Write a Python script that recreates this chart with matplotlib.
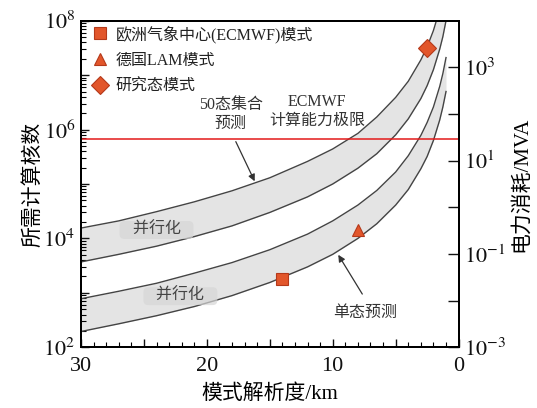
import numpy as np
import matplotlib
matplotlib.use("Agg")
import matplotlib.pyplot as plt
from matplotlib.ticker import LogLocator, MultipleLocator, FixedLocator, FuncFormatter, NullFormatter, NullLocator
from matplotlib.lines import Line2D

plt.rcParams['font.family'] = ['Liberation Serif', 'Noto Sans CJK SC']
plt.rcParams['mathtext.fontset'] = 'stix'
plt.rcParams['axes.unicode_minus'] = True

# Grid spacing (km) at which the cost curves were sampled
res_km = [30, 27, 24, 21, 18, 15, 12, 10, 8, 6.5, 5, 4, 3, 2.5, 2, 1.5, 1.25, 1.0]

# 50-member ensemble band (upper / lower edge), number of cores
ens_hi = [1.55e4, 2.1e4, 3.1e4, 4.7e4, 7.5e4, 1.3e5, 2.6e5, 4.4e5, 8.5e5, 1.7e6,
          3.9e6, 7.7e6, 1.9e7, 3.3e7, 6.6e7, 1.6e8, 2.8e8, 5.6e8]
ens_lo = [3.7e3, 5.1e3, 7.2e3, 1.08e4, 1.7e4, 3.0e4, 5.8e4, 1.0e5, 1.95e5, 3.6e5,
          8.0e5, 1.57e6, 3.7e6, 6.4e6, 1.26e7, 3.0e7, 5.1e7, 1.0e8]

# Single deterministic forecast band (upper / lower edge)
det_hi = [7.8e2, 1.07e3, 1.5e3, 2.3e3, 3.6e3, 6.2e3, 1.2e4, 2.1e4, 4.1e4, 7.6e4,
          1.66e5, 3.3e5, 7.8e5, 1.35e6, 2.6e6, 6.2e6, 1.07e7, 2.1e7]
det_lo = [1.95e2, 2.7e2, 3.8e2, 5.6e2, 8.9e2, 1.55e3, 3.0e3, 5.1e3, 1.0e4, 1.86e4,
          4.1e4, 7.9e4, 1.9e5, 3.2e5, 6.3e5, 1.5e6, 2.6e6, 5.0e6]

# ECMWF computing capacity limit
ecmwf_limit = 6.7e5

# Individual models: (resolution km, cores)
model_names = ['欧洲气象中心(ECMWF)模式', '德国LAM模式', '研究态模式']
model_res = [14, 8, 2.5]
model_cores = [1.8e3, 1.45e4, 3.1e7]
model_markers = ['s', '^', 'D']
model_sizes = [9, 9, 9.5]

fig = plt.figure(figsize=(5.37, 4.08), dpi=100)
ax = fig.add_axes([0.1508, 0.1488, 0.7032, 0.8005])

band_face = '#e4e4e4'
line_col = '#444444'
ax.fill_between(res_km, ens_lo, ens_hi, color=band_face, lw=0, zorder=1)
ax.fill_between(res_km, det_lo, det_hi, color=band_face, lw=0, zorder=1)
for ys in (ens_hi, ens_lo, det_hi, det_lo):
    ax.plot(res_km, ys, color=line_col, lw=1.0, zorder=2)

ax.axhline(ecmwf_limit, color='#e31a1a', lw=1.1, zorder=3)

mk_face = '#e2562b'
mk_edge = '#b5391a'
handles = []
for name, xr, yc, m, s in zip(model_names, model_res, model_cores, model_markers, model_sizes):
    ax.plot([xr], [yc], marker=m, ms=s, mfc=mk_face, mec=mk_edge, mew=0.8,
            ls='none', zorder=5)
    handles.append(Line2D([], [], marker=m, ms=s, mfc=mk_face, mec=mk_edge,
                          mew=0.8, ls='none', label=name))

leg = ax.legend(handles=handles, loc='upper left', bbox_to_anchor=(0.005, 1.02),
                frameon=False, fontsize=11.5, handlelength=0.8, handletextpad=0.55,
                labelspacing=0.6, borderaxespad=0.3)
for t in leg.get_texts():
    t.set_color('#222222')

ax.set_xlim(30, 0)
ax.set_ylim(1e2, 1e8)
ax.set_yscale('log')

# Axis ticks
ax.xaxis.set_major_locator(MultipleLocator(5))
ax.xaxis.set_minor_locator(MultipleLocator(1))
ax.xaxis.set_major_formatter(FuncFormatter(lambda v, p: f'{int(round(v))}' if round(v) % 10 == 0 else ''))
ax.yaxis.set_major_locator(LogLocator(base=10, numticks=20))
ax.yaxis.set_minor_locator(LogLocator(base=10, subs=np.arange(2, 10), numticks=20))
ax.yaxis.set_minor_formatter(NullFormatter())

def left_fmt(v, p):
    e = int(round(np.log10(v)))
    return f'$10^{{{e}}}$' if e % 2 == 0 else ''
ax.yaxis.set_major_formatter(FuncFormatter(left_fmt))

ax.tick_params(axis='both', which='major', direction='in', length=6, width=1.0,
               labelsize=16, colors='#111111')
ax.tick_params(axis='both', which='minor', direction='in', length=3.5, width=0.8)
ax.tick_params(axis='x', which='major', pad=7)
ax.tick_params(axis='y', which='major', pad=4)
for sp in ax.spines.values():
    sp.set_linewidth(1.4)

ax.set_xlabel('模式解析度/km', fontsize=15, labelpad=6)
ax.set_ylabel('所需计算核数', fontsize=15, labelpad=0)

# Power consumption axis
ax2 = ax.twinx()
ax2.set_yscale('log')
ax2.set_ylim(1e-3, 1e4)
ax2.yaxis.set_major_locator(FixedLocator([10.0 ** e for e in range(-3, 4)]))
ax2.yaxis.set_minor_locator(NullLocator())

def right_fmt(v, p):
    e = int(round(np.log10(v)))
    return f'$10^{{{e}}}$' if e % 2 != 0 else ''
ax2.yaxis.set_major_formatter(FuncFormatter(right_fmt))
ax2.tick_params(axis='y', which='major', direction='in', length=8, width=1.0,
                labelsize=16, pad=4, colors='#111111')
ax2.set_ylabel('电力消耗/MVA', fontsize=15, labelpad=4)
for sp in ax2.spines.values():
    sp.set_linewidth(1.4)

# Annotations
txt_col = '#333333'
ax.text(18.1, 1.9e6, '50态集合\n预测', ha='center', va='center', fontsize=11.5,
        color=txt_col, linespacing=1.3)
ax.annotate('', xy=(16.2, 1.12e5), xytext=(17.7, 6.0e5),
            arrowprops=dict(arrowstyle='-|>', color='#333333', lw=0.9,
                            mutation_scale=10, shrinkA=0, shrinkB=0))
ax.text(11.25, 2.15e6, 'ECMWF\n计算能力极限', ha='center', va='center', fontsize=11.5,
        color=txt_col, linespacing=1.3)
ax.text(7.4, 4.3e2, '单态预测', ha='center', va='center', fontsize=11.5, color=txt_col)
ax.annotate('', xy=(9.56, 5.0e3), xytext=(7.65, 9.5e2),
            arrowprops=dict(arrowstyle='-|>', color='#333333', lw=0.9,
                            mutation_scale=10, shrinkA=0, shrinkB=0))

box = dict(boxstyle='round,pad=0.06,rounding_size=0.3', fc='#d6d6d6', ec='none', alpha=0.7)
ax.text(24.0, 1.43e4, '   并行化   ', ha='center', va='center', fontsize=11.5,
        color='#444444', bbox=box, zorder=4)
ax.text(22.1, 8.7e2, '   并行化   ', ha='center', va='center', fontsize=11.5,
        color='#444444', bbox=box, zorder=4)

fig.savefig('out.png', dpi=100)
